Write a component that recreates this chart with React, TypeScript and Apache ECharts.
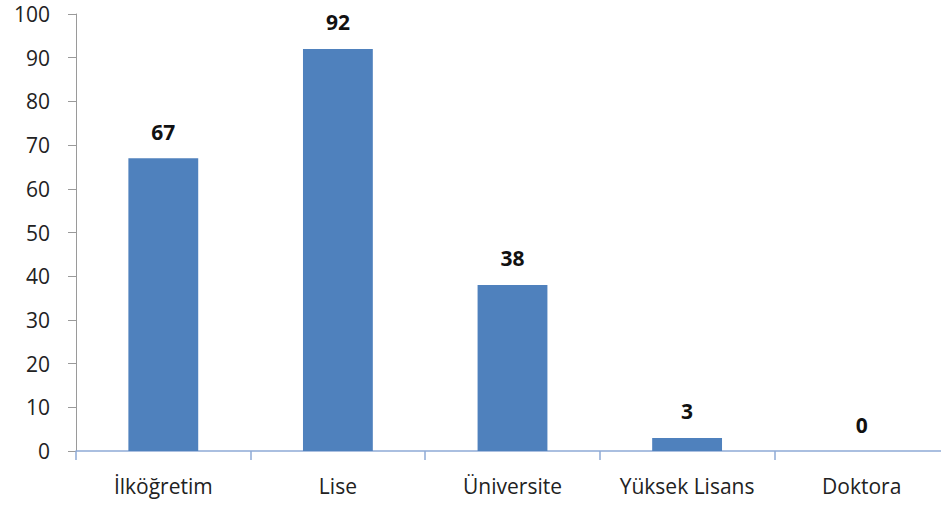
import React, { useEffect, useRef } from "react";
import * as echarts from "echarts";

const categories = ["İlköğretim", "Lise", "Üniversite", "Yüksek Lisans", "Doktora"];
const values = [67, 92, 38, 3, 0];
const yMin = 0;
const yMax = 100;
const yInterval = 10;

export default function App() {
  const ref = useRef<HTMLDivElement>(null);
  useEffect(() => {
    const chart = echarts.init(ref.current!, null, { renderer: "svg" });
    const font = "'Open Sans', sans-serif";
    chart.setOption({
      animation: false,
      grid: { left: 76, width: 873, top: 14, bottom: 54, containLabel: false, outerBoundsMode: "none" },
      xAxis: {
        type: "category",
        data: categories,
        axisLine: { lineStyle: { color: "#8eaad6", width: 1.5 } },
        axisTick: { show: true, interval: 0, length: 9, alignWithLabel: false, lineStyle: { color: "#8eaad6", width: 1.5 } },
        axisLabel: { color: "#222", fontSize: 21, fontFamily: font, margin: 24, interval: 0, hideOverlap: false },
        splitLine: { show: false },
      },
      yAxis: {
        type: "value",
        min: yMin,
        max: yMax,
        interval: yInterval,
        axisLine: { show: true, lineStyle: { color: "#9a9a9a", width: 1 } },
        axisTick: { show: true, length: 8, lineStyle: { color: "#9a9a9a" } },
        axisLabel: { color: "#222", fontSize: 21, fontFamily: font, margin: 26 },
        splitLine: { show: false },
      },
      series: [
        {
          type: "bar",
          data: values,
          barWidth: "40%",
          itemStyle: { color: "#4f81bd" },
          label: {
            show: true,
            position: "top",
            distance: 16,
            color: "#111",
            fontSize: 21,
            fontWeight: "bold",
            fontFamily: font,
          },
        },
      ],
    });
    return () => chart.dispose();
  }, []);
  return (
    <div
      ref={ref}
      style={{ position: "absolute", left: 0, top: 0, width: 941, height: 505, background: "#fff" }}
    />
  );
}
